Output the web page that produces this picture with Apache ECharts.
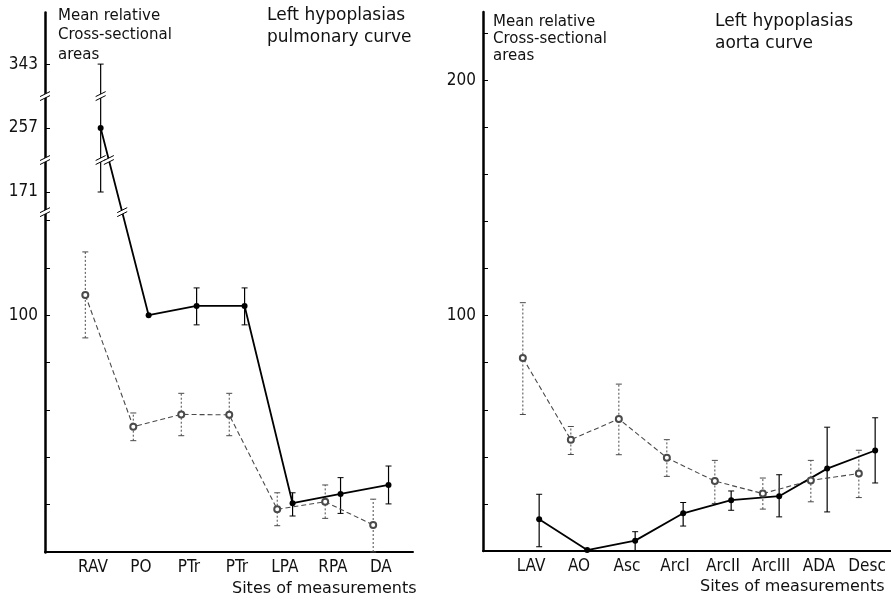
<!DOCTYPE html>
<html>
<head>
<meta charset="utf-8">
<script src="https://cdn.jsdelivr.net/npm/echarts@6.0.0/dist/echarts.min.js"></script>
<style>
html, body { margin: 0; padding: 0; background: #fff; }
#container { width: 891px; height: 600px; }
</style>
</head>
<body>
<div id="container"></div>
<script>
// pulmonary curve (left panel)
var pulmSites = ['RAV', 'PO', 'PTr', 'PTr', 'LPA', 'RPA', 'DA'];
var pulmOpen = [108.5, 52.9, 58.1, 57.9, 18, 21.2, 11.4];
var pulmOpenLow = [90.4, 47, 49.1, 49.1, 11.1, 14.2, 0];
var pulmOpenHigh = [126.7, 58.7, 67, 67, 25, 28.3, 22.3];
var pulmFilled = [257, 100, 103.9, 103.9, 20.6, 24.5, 28.3];
var pulmFilledLow = [171, null, 95.9, 95.9, 15.2, 16.3, 20.3];
var pulmFilledHigh = [343, null, 111.5, 111.5, 25, 31.4, 36.3];
var pulmTicks = [20, 40, 60, 80, 100, 120, 140, 171, 257, 343];
var pulmLabels = [100, 171, 257, 343];
var pulmBreaks = [[143, 163], [184, 244], [270, 330]];

// aorta curve (right panel)
var aortaSites = ['LAV', 'AO', 'Asc', 'ArcI', 'ArcII', 'ArcIII', 'ADA', 'Desc'];
var aortaOpen = [82, 47.3, 56.1, 39.6, 29.7, 24.4, 30, 32.9];
var aortaOpenLow = [58, 41, 40.9, 31.7, 20.2, 17.8, 20.9, 22.7];
var aortaOpenHigh = [105.5, 52.9, 70.9, 47.3, 38.5, 31, 38.5, 42.8];
var aortaFilled = [13.5, 0.4, 4.4, 16, 21.6, 23.3, 35, 42.7];
var aortaFilledLow = [1.8, null, 0, 10.6, 17.3, 14.5, 16.6, 28.9];
var aortaFilledHigh = [24.1, null, 8.2, 20.6, 25.5, 32.4, 52.6, 56.6];
var aortaTicks = [20, 40, 60, 80, 100, 120, 140, 160, 180, 200, 220];
var aortaLabels = [100, 200];

var FONT = '"DejaVu Sans", "Liberation Sans", sans-serif';
var NARROW = '"DejaVu Sans Condensed", "Liberation Sans Narrow", "Liberation Sans", sans-serif';
var OPEN_COLOR = '#4a4a4a';

var dom = document.getElementById('container');
var myChart = echarts.init(dom);

function points(values, offset) {
    return values.map(function (v, i) { return [i + offset, v]; });
}

// little "//" sign used where a line runs through a broken part of the axis
function breakSign(cx, cy, color) {
    return [
        { type: 'polygon', shape: { points: [[cx - 5, cy + 4.5], [cx + 5, cy - 0.5], [cx + 5, cy - 4.5], [cx - 5, cy + 0.5]] },
          style: { fill: '#fff' } },
        { type: 'line', shape: { x1: cx - 5, y1: cy + 4.5, x2: cx + 5, y2: cy - 0.5 }, style: { stroke: color, lineWidth: 1 } },
        { type: 'line', shape: { x1: cx - 5, y1: cy + 0.5, x2: cx + 5, y2: cy - 4.5 }, style: { stroke: color, lineWidth: 1 } }
    ];
}

function errorBars(axis, offset, lows, highs, breaks, color, dashed) {
    var data = [];
    lows.forEach(function (lo, i) {
        if (lo != null) data.push([i + offset, lo, highs[i]]);
    });
    var style = { stroke: color, lineWidth: dashed ? 1 : 1.2, lineDash: dashed ? [2, 2] : null };
    return {
        type: 'custom',
        xAxisIndex: axis, yAxisIndex: axis,
        data: data,
        z: 3,
        silent: true,
        encode: { x: 0, y: [1, 2] },
        renderItem: function (params, api) {
            var x = api.value(0), lo = api.value(1), hi = api.value(2);
            var p1 = api.coord([x, lo]);
            var p2 = api.coord([x, hi]);
            var kids = [
                { type: 'line', shape: { x1: p1[0], y1: p1[1], x2: p2[0], y2: p2[1] }, style: style },
                { type: 'line', shape: { x1: p1[0] - 3, y1: p1[1], x2: p1[0] + 3, y2: p1[1] }, style: { stroke: color, lineWidth: 1 } },
                { type: 'line', shape: { x1: p2[0] - 3, y1: p2[1], x2: p2[0] + 3, y2: p2[1] }, style: { stroke: color, lineWidth: 1 } }
            ];
            breaks.forEach(function (b) {
                if (lo < b[0] && hi > b[1]) {
                    var pb = api.coord([x, (b[0] + b[1]) / 2]);
                    kids = kids.concat(breakSign(pb[0], pb[1], color));
                }
            });
            return { type: 'group', children: kids };
        }
    };
}

// break signs on the y axis line and on line segments crossing a break
function breakMarks(axis, xmin, offset, values, breaks) {
    var data = [];
    breaks.forEach(function (b, k) {
        data.push([-1, k]);
        for (var i = 0; i + 1 < values.length; i++) {
            var a = values[i], c = values[i + 1];
            if ((a > b[1] && c < b[0]) || (c > b[1] && a < b[0])) data.push([i, k]);
        }
    });
    return {
        type: 'custom',
        xAxisIndex: axis, yAxisIndex: axis,
        data: data,
        z: 5,
        silent: true,
        renderItem: function (params, api) {
            var i = api.value(0), b = breaks[api.value(1)];
            var mid = (b[0] + b[1]) / 2;
            if (i < 0) {
                var pa = api.coord([xmin, mid]);
                return { type: 'group', children: breakSign(pa[0], pa[1], '#000') };
            }
            var p1 = api.coord([i + offset, values[i]]);
            var p2 = api.coord([i + 1 + offset, values[i + 1]]);
            var pm = api.coord([i + offset, mid]);
            var t = (pm[1] - p1[1]) / (p2[1] - p1[1]);
            var cx = p1[0] + t * (p2[0] - p1[0]);
            return { type: 'group', children: breakSign(cx, pm[1], '#000') };
        }
    };
}

function idx(n) {
    var out = [];
    for (var i = 0; i < n; i++) out.push(i);
    return out;
}

function xAxisFor(grid, sites, max) {
    return {
        type: 'value', gridIndex: grid, min: -1, max: max,
        axisLine: { show: true, onZero: false, lineStyle: { color: '#000', width: 2 } },
        axisTick: { show: false },
        splitLine: { show: false },
        axisLabel: {
            customValues: idx(sites.length),
            formatter: function (v) { return sites[Math.round(v)]; },
            fontFamily: NARROW, fontSize: 17, color: '#111', margin: 7
        }
    };
}

function yAxisFor(grid, max, ticks, labels, breaks) {
    var ax = {
        type: 'value', gridIndex: grid, min: 0, max: max,
        axisLine: { show: true, onZero: false, lineStyle: { color: '#000', width: 2.5 } },
        axisTick: { show: true, inside: true, length: 5, customValues: ticks, lineStyle: { color: '#000', width: 1 } },
        splitLine: { show: false },
        axisLabel: { customValues: labels, fontFamily: NARROW, fontSize: 17, color: '#111', margin: 7 }
    };
    if (breaks) {
        ax.breaks = breaks.map(function (b) { return { start: b[0], end: b[1], gap: 1 }; });
        ax.breakArea = { show: false };
    }
    return ax;
}

function openLine(axis, data) {
    return {
        type: 'line', xAxisIndex: axis, yAxisIndex: axis, data: data,
        symbol: 'emptyCircle', symbolSize: 6, z: 4,
        lineStyle: { color: OPEN_COLOR, width: 1.1, type: [5, 3] },
        itemStyle: { color: OPEN_COLOR, borderWidth: 1 }
    };
}

function filledLine(axis, data) {
    return {
        type: 'line', xAxisIndex: axis, yAxisIndex: axis, data: data,
        symbol: 'circle', symbolSize: 6, z: 4,
        lineStyle: { color: '#000', width: 1.8 },
        itemStyle: { color: '#000' }
    };
}

function text(left, top, str, size, lineHeight) {
    return {
        type: 'text', left: left, top: top,
        style: { text: str, fontFamily: FONT, fontSize: size, lineHeight: lineHeight, fill: '#111' }
    };
}

var pulmMaxX = 6.67, aortaMaxX = 7.5;

option = {
    backgroundColor: '#fff',
    animation: false,
    grid: [
        { left: 45, right: 478, top: 12, bottom: 48 },
        { left: 483, right: 0, top: 12, bottom: 49 }
    ],
    xAxis: [
        xAxisFor(0, pulmSites, pulmMaxX),
        xAxisFor(1, aortaSites, aortaMaxX)
    ],
    yAxis: [
        yAxisFor(0, 365, pulmTicks, pulmLabels, pulmBreaks),
        yAxisFor(1, 229, aortaTicks, aortaLabels, null)
    ],
    series: [
        errorBars(0, -0.16, pulmOpenLow, pulmOpenHigh, pulmBreaks, OPEN_COLOR, true),
        errorBars(0, 0.16, pulmFilledLow, pulmFilledHigh, pulmBreaks, '#000', false),
        openLine(0, points(pulmOpen, -0.16)),
        filledLine(0, points(pulmFilled, 0.16)),
        breakMarks(0, -1, 0.16, pulmFilled, pulmBreaks),
        errorBars(1, -0.17, aortaOpenLow, aortaOpenHigh, [], OPEN_COLOR, true),
        errorBars(1, 0.17, aortaFilledLow, aortaFilledHigh, [], '#000', false),
        openLine(1, points(aortaOpen, -0.17)),
        filledLine(1, points(aortaFilled, 0.17))
    ],
    graphic: [
        text(58, 6, 'Mean relative\nCross-sectional\nareas', 15, 19.5),
        text(267, 5, 'Left hypoplasias\npulmonary curve', 17, 22),
        text(232, 580, 'Sites of measurements', 16, 18),
        text(493, 14, 'Mean relative\nCross-sectional\nareas', 15, 17),
        text(715, 11, 'Left hypoplasias\naorta curve', 17, 22),
        text(700, 578, 'Sites of measurements', 16, 18)
    ]
};

if (option && typeof option === 'object') {
    myChart.setOption(option, true);
}
</script>
</body>
</html>
